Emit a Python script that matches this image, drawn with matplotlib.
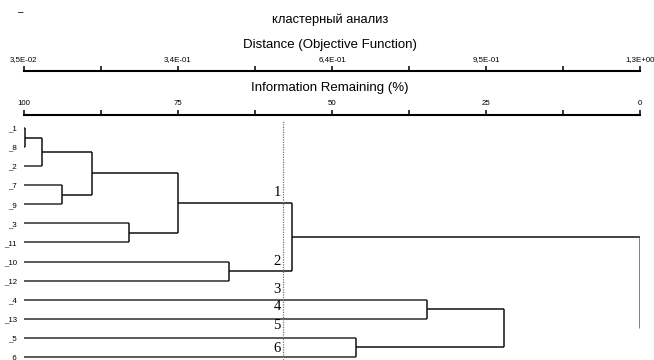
import matplotlib.pyplot as plt
import numpy as np

plt.rcParams['font.family'] = ['Liberation Sans', 'DejaVu Sans']

# leaf labels, top to bottom
leaves = ["_1", "_8", "_2", "_7", "_9", "_3", "_11", "_10", "_12", "_4", "_13", "_5", "_6"]

# merges: (left id, right id, information remaining %) ; new ids start at len(leaves)
merge_left = [0, 13, 3, 14, 5, 16, 7, 18, 9, 11, 21, 20]
merge_right = [1, 2, 4, 15, 6, 17, 8, 19, 10, 12, 22, 23]
merge_info = [99.8, 97.0, 93.8, 89.0, 83.0, 75.0, 66.7, 56.5, 34.6, 46.1, 22.1, 0.0]

# axis scales
info_ticks = [100, 75, 50, 25, 0]
info_minor = [87.5, 62.5, 37.5, 12.5]
dist_labels = ["3,5E-02", "3,4E-01", "6,4E-01", "9,5E-01", "1,3E+00"]

# cut line and group numbers
cut_info = 58.0
group_names = ["1", "2", "3", "4", "5", "6"]
group_y = [3.37, 7.0, 8.49, 9.38, 10.36, 11.55]

W, H = 654, 360
fig = plt.figure(figsize=(W / 100, H / 100), dpi=100)

left = 24 / W
width = 616 / W
ax = fig.add_axes([left, 0, width, 240 / H])
ax.set_xlim(100, 0)
ax.set_ylim(12.16, -0.42)
for s in ax.spines.values():
    s.set_visible(False)
ax.set_xticks([])
ax.set_yticks(range(len(leaves)))
ax.set_yticklabels(leaves, fontsize=5.7)
ax.tick_params(axis='y', length=0, pad=5)

# node positions
ypos = {i: float(i) for i in range(len(leaves))}
xpos = {i: 100.0 for i in range(len(leaves))}
leaf_col = '#5a5a5a'
node_col = '#111111'
n = len(leaves)
for k, (a, b, h) in enumerate(zip(merge_left, merge_right, merge_info)):
    nid = n + k
    is_root = k == len(merge_info) - 1
    for c in (a, b):
        # the reference has no connector from the lower group to the root
        if is_root and c == b:
            continue
        col, lw = (leaf_col, 1.4) if c < n else (node_col, 1.1)
        ax.plot([xpos[c], h], [ypos[c], ypos[c]], color=col, lw=lw, solid_capstyle='butt')
    vcol = leaf_col if is_root else node_col
    vlw = 1.8 if is_root else 1.1
    ax.plot([h, h], [ypos[a], ypos[b]], color=vcol, lw=vlw, solid_capstyle='butt')
    ypos[nid] = (ypos[a] + ypos[b]) / 2
    xpos[nid] = h

# cut line
ax.axvline(cut_info, color='#777777', lw=0.9, ls=(0, (1, 1)))
for name, y in zip(group_names, group_y):
    ax.text(cut_info + 0.3, y, name, ha='right', va='center',
            family=['Liberation Serif', 'DejaVu Serif'], fontsize=10.5)


def scale_axis(ypix, labels):
    sa = fig.add_axes([left, 1 - ypix / H, width, 0.0001])
    sa.set_xlim(100, 0)
    sa.set_yticks([])
    for k in ('left', 'right', 'bottom'):
        sa.spines[k].set_visible(False)
    sa.spines['top'].set_linewidth(1.5)
    sa.xaxis.tick_top()
    sa.set_xticks(info_ticks)
    sa.set_xticklabels(labels, fontsize=5.7)
    sa.set_xticks(info_minor, minor=True)
    sa.tick_params(axis='x', which='both', direction='out', length=3.5, width=1.1, pad=2)
    sa.patch.set_visible(False)
    return sa


scale_axis(71, dist_labels)
scale_axis(115, [str(t) for t in info_ticks])

cx = 330 / W
fig.text(cx, 1 - 20 / H, "кластерный анализ", ha='center', va='center', fontsize=9.3)
fig.text(cx, 1 - 45 / H, "Distance (Objective Function)", ha='center', va='center', fontsize=9.5)
fig.text(cx, 1 - 88 / H, "Information Remaining (%)", ha='center', va='center', fontsize=9.5)
fig.text(21 / W, 1 - 12 / H, "–", ha='center', va='center', fontsize=7)

fig.savefig("out.png", dpi=100)
